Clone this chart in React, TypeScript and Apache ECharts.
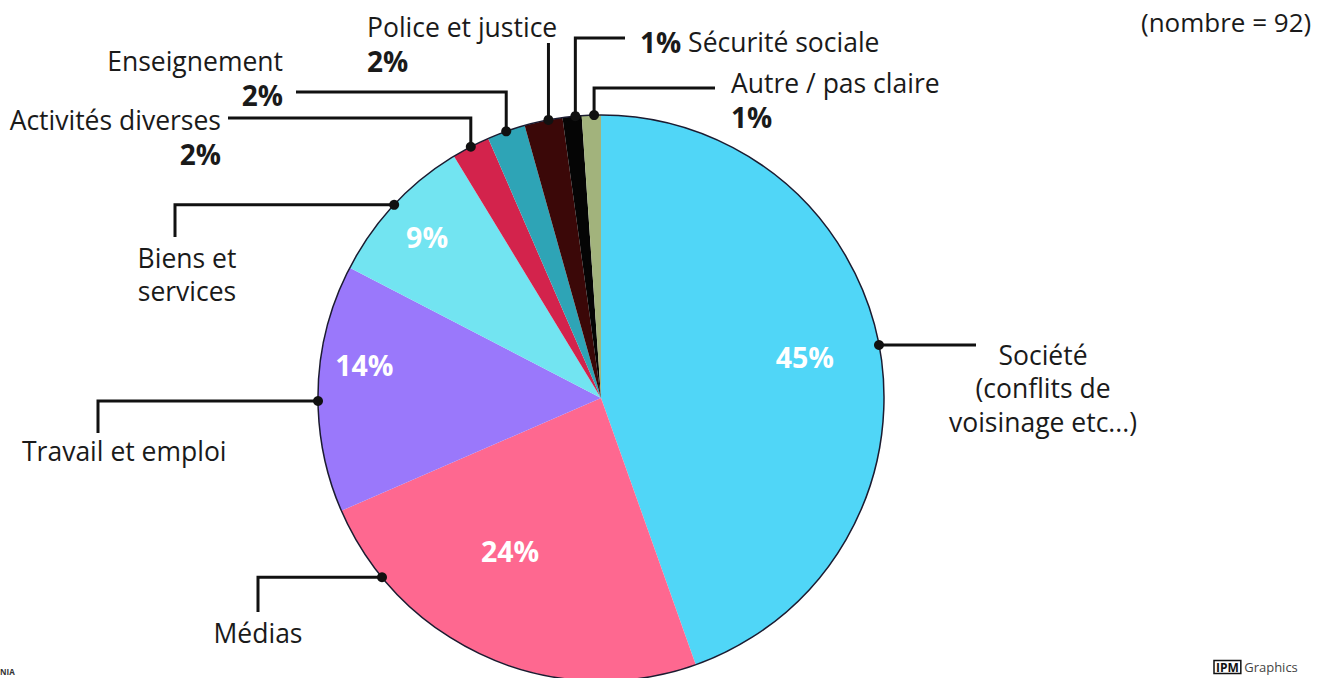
import React, { useEffect, useRef } from "react";
import * as echarts from "echarts";

// ---------- data ----------
const categories = [
  "Société\n(conflits de\nvoisinage etc...)",
  "Médias",
  "Travail et emploi",
  "Biens et\nservices",
  "Activités diverses",
  "Enseignement",
  "Police et justice",
  "Sécurité sociale",
  "Autre / pas claire",
];
const counts = [41, 22, 13, 8, 2, 2, 2, 1, 1];
const colors = ["#50d6f7", "#fe6890", "#9a78fb", "#72e4f1", "#d3234c", "#2ea4b6", "#3b0808", "#050505", "#a2b37c"];
const countNote = "(nombre = 92)";

// ---------- layout ----------
const FONT = "'Open Sans', 'DejaVu Sans', sans-serif";
const CX = 601;
const CY = 398;
const R = 283;
const TEXT = "#1a1a1a";

const total = counts.reduce((a, b) => a + b, 0);
const midAngle = (i: number) => {
  let cum = 0;
  for (let j = 0; j < i; j++) cum += counts[j];
  return 90 - (360 * (cum + counts[i] / 2)) / total;
};
const polar = (deg: number, r: number) => [
  CX + r * Math.cos((deg * Math.PI) / 180),
  CY - r * Math.sin((deg * Math.PI) / 180),
];

// outer label layout: dot angle (null = mid slice), first segment direction, elbow values, label box
const OUTER: any[] = [
  { angle: 10.8, first: "h", a: 976, b: null, x: 1043, y: 338, align: "center", pct: "none" },
  { angle: 219.3, first: "h", a: 258, b: 612, x: 258, y: 616, align: "center", pct: "none" },
  { angle: 180.6, first: "h", a: 98, b: 433, x: 22, y: 434, align: "left", pct: "none" },
  { angle: null, first: "h", a: 175, b: 237, x: 187, y: 241, align: "center", pct: "none" },
  { angle: null, first: "v", a: 118, b: 228, x: 221, y: 103, align: "right", pct: "below" },
  { angle: null, first: "v", a: 92, b: 296, x: 283, y: 44, align: "right", pct: "below" },
  { angle: 100.7, first: "v", a: 43, b: null, x: 367, y: 10, align: "left", pct: "below" },
  { angle: 95.2, first: "v", a: 38, b: 625, x: 640, y: 25, align: "left", pct: "before" },
  { angle: 91.4, first: "v", a: 88, b: 715, x: 731, y: 66, align: "left", pct: "below" },
];
// inner percent labels: [angle, radius] or null
const INNER: any[] = [[11.4, 208], [239.3, 178], [172, 239], [137.2, 237], null, null, null, null, null];

const dotPoint = (i: number) => polar(OUTER[i].angle == null ? midAngle(i) : OUTER[i].angle, R);

export default function App() {
  const ref = useRef<HTMLDivElement>(null);
  useEffect(() => {
    document.body.style.margin = "0";
    const chart = echarts.init(ref.current!, null, { renderer: "svg" });
    const option: any = {
      animation: false,
      backgroundColor: "#ffffff",
      textStyle: { fontFamily: FONT },
      graphic: [
        ...counts.map((_, i) => {
          const [x, y] = dotPoint(i);
          return { type: "circle", z: 100, shape: { cx: x, cy: y, r: 5 }, style: { fill: "#111" } };
        }),
        {
          type: "text",
          x: 1141,
          y: 22,
          style: { text: countNote, font: `26px ${FONT}`, fill: TEXT, verticalAlign: "middle" },
        },
        {
          type: "text",
          x: 0,
          y: 671,
          style: { text: "NIA", font: `bold 8px ${FONT}`, fill: "#333", verticalAlign: "middle" },
        },
        {
          type: "text",
          x: 1214,
          y: 667,
          style: {
            text: "{a|IPM}{b| Graphics}",
            verticalAlign: "middle",
            rich: {
              a: { font: `bold 12px ${FONT}`, fill: "#111", borderColor: "#111", borderWidth: 1.5, padding: [1, 2, 0, 2] },
              b: { font: `13px ${FONT}`, fill: "#444" },
            },
          },
        },
      ],
      series: [
        {
          type: "pie",
          center: [CX, CY],
          radius: R,
          startAngle: 90,
          clockwise: true,
          avoidLabelOverlap: false,
          percentPrecision: 0,
          silent: true,
          itemStyle: { borderWidth: 0 },
          label: {
            show: true,
            position: "inside",
            formatter: "{d}%",
            color: "#ffffff",
            fontSize: 28.5,
            fontWeight: "bold",
            fontFamily: FONT,
          },
          labelLine: { show: false },
          labelLayout: (params: any) => {
            const c = INNER[params.dataIndex];
            if (!c) return {};
            const [x, y] = polar(c[0], c[1]);
            return { x, y, align: "center", verticalAlign: "middle" };
          },
          data: counts.map((v, i) => ({
            value: v,
            name: categories[i],
            itemStyle: { color: colors[i] },
            label: { show: INNER[i] != null },
          })),
        },
        {
          type: "pie",
          center: [CX, CY],
          radius: R,
          startAngle: 90,
          silent: true,
          itemStyle: { color: "transparent", borderColor: "#1b1b30", borderWidth: 1.5 },
          label: { show: false },
          labelLine: { show: false },
          data: [{ value: total, name: "outline" }],
        },
        {
          type: "pie",
          center: [CX, CY],
          radius: R,
          startAngle: 90,
          clockwise: true,
          avoidLabelOverlap: false,
          percentPrecision: 0,
          silent: true,
          itemStyle: { color: "transparent", borderWidth: 0 },
          label: {
            show: true,
            position: "outside",
            color: TEXT,
            formatter: (p: any) => {
              const i = p.dataIndex;
              const mode = OUTER[i].pct;
              const tag = mode === "below" ? "m" : "n";
              const lines = categories[i].split("\n").map((s) => `{${tag}|${s}}`);
              const pct = `{p|${p.percent}%}`;
              if (mode === "none") return lines.join("\n");
              if (mode === "before") return `${pct}{n| ${categories[i]}}`;
              return lines.join("\n") + "\n" + pct;
            },
            rich: {
              n: { fontSize: 26.5, lineHeight: 33.5, color: TEXT, fontFamily: FONT },
              m: { fontSize: 26.5, lineHeight: 34, color: TEXT, fontFamily: FONT },
              p: { fontSize: 28, lineHeight: 34, fontWeight: "bold", color: TEXT, fontFamily: FONT },
            },
          },
          labelLine: { show: true, lineStyle: { color: "#111", width: 3 } },
          labelLayout: (params: any) => {
            const i = params.dataIndex;
            const c = OUTER[i];
            const dot = dotPoint(i);
            let p2: number[];
            let p3: number[];
            if (c.first === "h") {
              p2 = [c.a, dot[1]];
              p3 = c.b == null ? p2 : [c.a, c.b];
            } else {
              p2 = [dot[0], c.a];
              p3 = c.b == null ? p2 : [c.b, c.a];
            }
            return { x: c.x, y: c.y, align: c.align, verticalAlign: "top", labelLinePoints: [dot, p2, p3] };
          },
          data: counts.map((v, i) => ({
            value: v,
            name: categories[i],
            label: { align: OUTER[i].align },
          })),
        },
      ],
    };
    chart.setOption(option);
    return () => chart.dispose();
  }, []);
  return (
    <div
      ref={ref}
      style={{ position: "fixed", left: 0, top: 0, width: 1328, height: 678, background: "#fff" }}
    />
  );
}
